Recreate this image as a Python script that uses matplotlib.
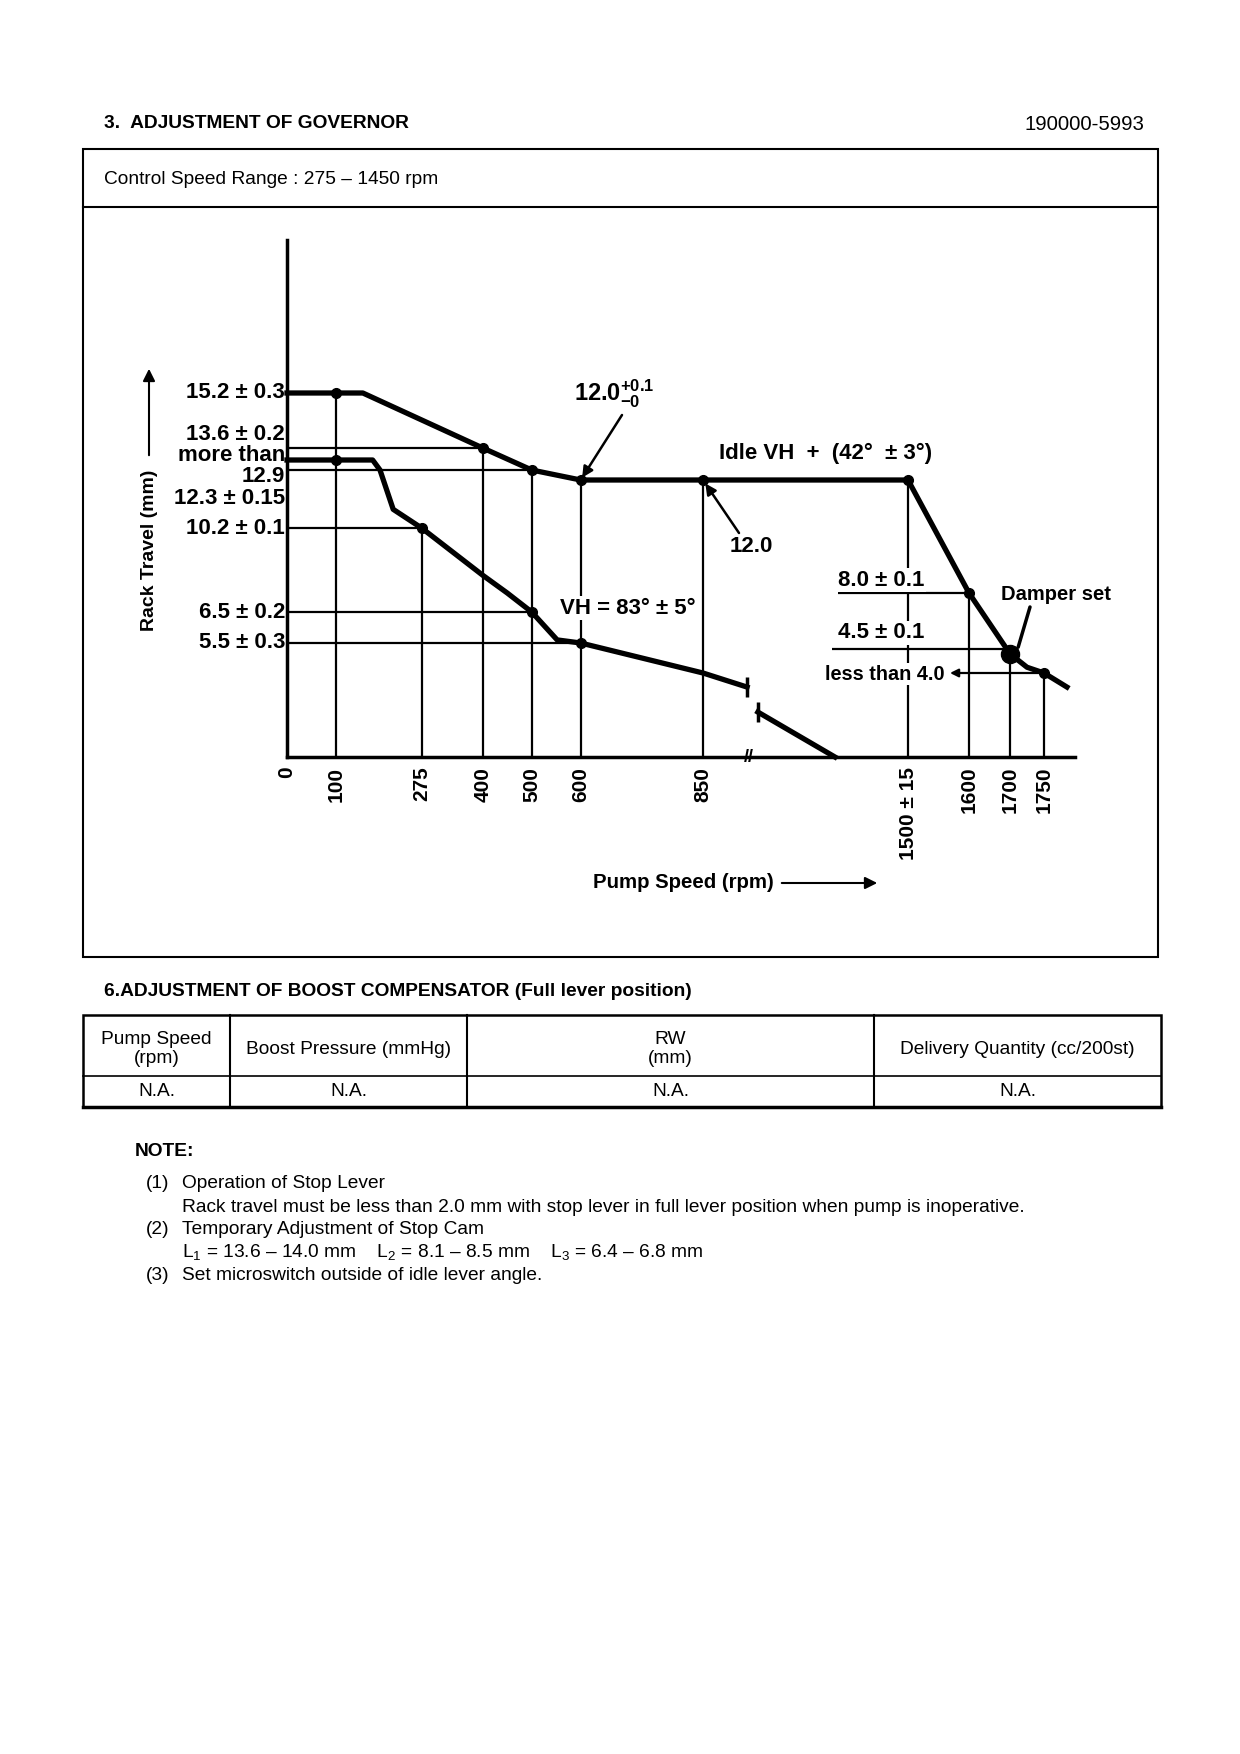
import numpy as np
import matplotlib
matplotlib.use("Agg")
import matplotlib.pyplot as plt
from matplotlib.patches import Rectangle

plt.rcParams["font.family"] = ["Liberation Sans", "DejaVu Sans"]
plt.rcParams["mathtext.fontset"] = "custom"
plt.rcParams["mathtext.rm"] = "Liberation Sans"
plt.rcParams["mathtext.bf"] = "Liberation Sans:bold"

W, H = 1240, 1754

# governor curves: pump speed (rpm) vs rack travel (mm)
full_rpm = [0, 155, 400, 500, 600, 1500, 1600, 1700, 1725, 1750, 1787]
full_rack = [15.2, 15.2, 13.6, 12.3, 12.0, 12.0, 8.0, 4.4, 4.12, 4.0, 3.33]

idle_rpm = [0, 175, 190, 217, 275, 400, 450, 500, 552, 600, 850, 941]
idle_rack = [12.9, 12.9, 12.3, 10.9, 10.2, 8.6, 8.0, 6.5, 5.6, 5.5, 4.0, 3.33]

idle_tail_rpm = [976, 1245]
idle_tail_rack = [2.14, 0.0]

point_rpm = [100, 400, 500, 600, 850, 1500, 1600, 1750, 100, 275, 500, 600]
point_rack = [15.2, 13.6, 12.3, 12.0, 12.0, 12.0, 8.0, 4.0, 12.9, 10.2, 6.5, 5.5]

# vertical drop lines (rpm, level)
drop_rpm = [100, 275, 400, 500, 600, 850, 1500, 1600, 1700, 1750]
drop_rack = [15.2, 10.2, 13.6, 12.3, 12.0, 12.0, 12.0, 8.0, 4.5, 4.0]

# horizontal reference lines from the rack axis (level, rpm)
ref_rack = [13.6, 12.3, 10.2, 6.5, 5.5]
ref_rpm = [400, 500, 275, 500, 600]

xtick_rpm = [0, 100, 275, 400, 500, 600, 850, 1500, 1600, 1700, 1750]
xtick_labels = ["0", "100", "275", "400", "500", "600", "850",
                "1500 ± 15", "1600", "1700", "1750"]

ylabel_rack = [15.2, 13.6, 12.9, 12.3, 10.2, 6.5, 5.5]
ylabel_text = ["15.2 ± 0.3", "13.6 ± 0.2", "more than\n12.9", "12.3 ± 0.15",
               "10.2 ± 0.1", "6.5 ± 0.2", "5.5 ± 0.3"]
ylabel_shift = [0, -13, 6, 29, 0, 0, 0]

table_cols = ["Pump Speed\n(rpm)", "Boost Pressure (mmHg)", "RW\n(mm)",
              "Delivery Quantity (cc/200st)"]
table_vals = ["N.A.", "N.A.", "N.A.", "N.A."]

notes = [
    ("(1)", "Operation of Stop Lever"),
    ("", "Rack travel must be less than 2.0 mm with stop lever in full lever position when pump is inoperative."),
    ("(2)", "Temporary Adjustment of Stop Cam"),
    ("", r"L$_{1}$ = 13.6 – 14.0 mm    L$_{2}$ = 8.1 – 8.5 mm    L$_{3}$ = 6.4 – 6.8 mm"),
    ("(3)", "Set microswitch outside of idle lever angle."),
]

# schematic (non-linear) axis scales of the drawing
X_RPM = np.array([0, 850, 945, 1500, 1600, 1700, 1750, 1800])
X_PX = np.array([287, 703, 749, 908, 969, 1010, 1044, 1075])
Y_MM = np.array([0, 4.0, 4.5, 5.5, 6.5, 8.0, 10.2, 12.0, 12.3, 12.9, 13.6, 15.2, 19.7])
Y_PX = np.array([757, 673, 649, 643, 612, 593, 528, 480, 470, 460, 448, 393, 240])


def x_fwd(v):
    return np.interp(v, X_RPM, X_PX)


def x_inv(p):
    return np.interp(p, X_PX, X_RPM)


def y_fwd(v):
    return -np.interp(v, Y_MM, Y_PX)


def y_inv(p):
    return np.interp(p, -Y_PX, Y_MM)


BODY = 13.8

fig = plt.figure(figsize=(W / 100, H / 100), dpi=100)
page = fig.add_axes([0, 0, 1, 1])
page.set_xlim(0, W)
page.set_ylim(H, 0)
page.axis("off")

page.text(104, 124, "3.  ADJUSTMENT OF GOVERNOR", fontsize=13.75, fontweight="bold", va="center")
page.text(1144, 124, "190000-5993", fontsize=14.7, ha="right", va="center")
page.add_patch(Rectangle((83, 149), 1158 - 83, 957 - 149, fill=False, lw=1.5))
page.plot([83, 1158], [207, 207], color="black", lw=1.5)
page.text(104, 179, "Control Speed Range : 275 – 1450 rpm", fontsize=BODY, va="center")

# axis titles
page.text(149, 550, "Rack Travel (mm)", rotation=90, fontsize=14, fontweight="bold",
          ha="center", va="center")
page.annotate("", xy=(149, 366), xytext=(149, 458),
              arrowprops=dict(arrowstyle="-|>", lw=1.5, color="black", mutation_scale=18))
page.text(593, 883, "Pump Speed (rpm)", fontsize=14.7, fontweight="bold", va="center")
page.annotate("", xy=(880, 883), xytext=(779, 883),
              arrowprops=dict(arrowstyle="-|>", lw=1.5, color="black", mutation_scale=18))

# chart
ax = fig.add_axes([287 / W, 1 - 757 / H, (1075 - 287) / W, (757 - 240) / H])
ax.patch.set_visible(False)
ax.set_xscale("function", functions=(x_fwd, x_inv))
ax.set_yscale("function", functions=(y_fwd, y_inv))
ax.set_xlim(0, 1800)
ax.set_ylim(0, 19.7)
for side in ["top", "right"]:
    ax.spines[side].set_visible(False)
ax.spines["left"].set_linewidth(2.5)
ax.spines["bottom"].set_linewidth(2.5)
ax.set_yticks([])
ax.set_xticks(xtick_rpm, xtick_labels, rotation=90, fontsize=15, fontweight="bold")
ax.tick_params(axis="x", length=0, pad=7)

thin = dict(color="black", lw=1.6)
ax.vlines(drop_rpm, 0, drop_rack, **thin)
ax.hlines(ref_rack, 0, ref_rpm, **thin)
ax.hlines(8.0, x_inv(838), 1600, **thin)
ax.hlines(4.5, x_inv(832), 1700, **thin)

ax.plot(full_rpm, full_rack, color="black", lw=3.8, solid_joinstyle="round", clip_on=False)
ax.plot(idle_rpm, idle_rack, color="black", lw=3.8, solid_joinstyle="round", clip_on=False)
ax.plot(idle_tail_rpm, idle_tail_rack, color="black", lw=3.8, clip_on=False)
ax.plot(point_rpm, point_rack, "o", color="black", ms=7, clip_on=False)
ax.plot([1700], [4.4], "o", color="black", ms=13)

# break marks
ax.plot([idle_rpm[-1], idle_tail_rpm[0]], [idle_rack[-1], idle_tail_rack[0]], "|",
        color="black", ms=14, mew=2.5)
ax.annotate("//", xy=(945, 0), ha="center", va="center", fontsize=13, fontweight="bold",
            annotation_clip=False)

# y labels
for val, txt, dy in zip(ylabel_rack, ylabel_text, ylabel_shift):
    ax.annotate(txt, xy=(0, val), xytext=(-2, -dy), textcoords="offset pixels",
                ha="right", va="center", fontsize=16, fontweight="bold",
                linespacing=0.95, annotation_clip=False)

bold = dict(fontsize=16, fontweight="bold")
wbox = dict(facecolor="white", edgecolor="none", pad=1)


def chart_label(x, y, s, **kw):
    # label placed in page pixels but drawn above the chart lines
    ax.text(x, y, s, transform=page.transData, va="center", zorder=6, clip_on=False, **kw)


ax.annotate("", xy=(600, 12.0), xytext=(622, 415), textcoords=page.transData,
            arrowprops=dict(arrowstyle="-|>", lw=1.8, color="black", mutation_scale=16,
                            shrinkA=0, shrinkB=2))
chart_label(574, 394, r"$\mathbf{12.0}^{\mathbf{+0.1}}_{\mathbf{-0}}$", fontsize=17)

chart_label(719, 453, "Idle VH  +  (42°  ± 3°)", **bold)

ax.annotate("", xy=(850, 12.0), xytext=(739, 533), textcoords=page.transData,
            arrowprops=dict(arrowstyle="-|>", lw=1.8, color="black", mutation_scale=16,
                            shrinkA=0, shrinkB=3))
chart_label(730, 546, "12.0", **bold)

chart_label(560, 608, "VH = 83° ± 5°", bbox=wbox, **bold)
chart_label(838, 580, "8.0 ± 0.1", bbox=wbox, **bold)
chart_label(838, 633, "4.5 ± 0.1", bbox=wbox, **bold)
chart_label(825, 674, "less than 4.0", fontsize=14.3, fontweight="bold", bbox=wbox)
ax.annotate("", xy=(950, 673), xycoords=page.transData, xytext=(1750, 4.0), textcoords="data",
            arrowprops=dict(arrowstyle="-|>", lw=1.6, color="black", mutation_scale=12,
                            shrinkA=0, shrinkB=0))
chart_label(1001, 594, "Damper set", fontsize=14.5, fontweight="bold")
ax.annotate("", xy=(1712, 4.8), xytext=(1030, 607), textcoords=page.transData,
            arrowprops=dict(arrowstyle="-", lw=2.5, color="black", shrinkA=0, shrinkB=0))

# boost compensator table
page.text(104, 991, "6.ADJUSTMENT OF BOOST COMPENSATOR (Full lever position)",
          fontsize=BODY, fontweight="bold", va="center")
col_x = [83, 230, 467, 874, 1161]
page.add_patch(Rectangle((83, 1015), 1161 - 83, 1107 - 1015, fill=False, lw=1.8))
page.plot([83, 1161], [1076, 1076], color="black", lw=1.2)
page.plot([83, 1161], [1107, 1107], color="black", lw=2.5)
for cx in col_x[1:-1]:
    page.plot([cx, cx], [1015, 1107], color="black", lw=1.5)
for i, (head, val) in enumerate(zip(table_cols, table_vals)):
    cx = (col_x[i] + col_x[i + 1]) / 2
    page.text(cx, 1049, head, ha="center", va="center", fontsize=BODY, linespacing=1.2)
    page.text(cx, 1092, val, ha="center", va="center", fontsize=BODY)

# notes
page.text(135, 1151, "NOTE:", fontsize=BODY, fontweight="bold", va="center")
for i, (num, line) in enumerate(notes):
    y = 1184 + i * 23
    if num:
        page.text(146, y, num, fontsize=BODY, va="center")
    page.text(182, y, line, fontsize=BODY, va="center")

fig.savefig("out.png", dpi=100)
